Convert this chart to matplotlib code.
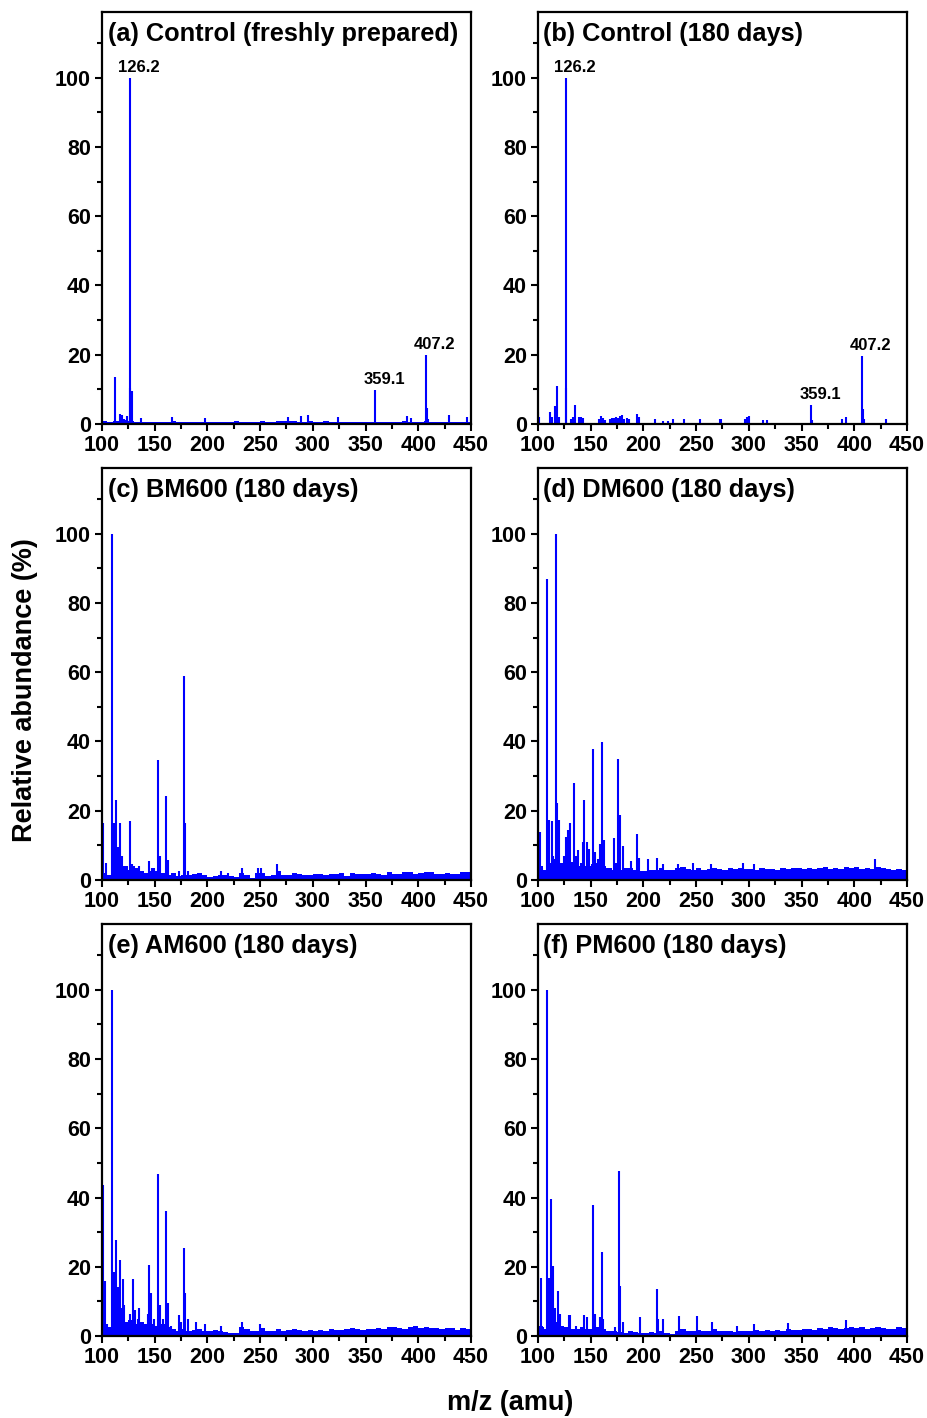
import numpy as np
import matplotlib
matplotlib.use("Agg")
import matplotlib.pyplot as plt
from matplotlib.ticker import MultipleLocator

plt.rcParams['font.family'] = ['Liberation Sans', 'DejaVu Sans']
plt.rcParams['font.weight'] = 'bold'

BLUE = '#0000ff'

# m/z bin edges of the background noise band (5 amu bins)
noise_edges = np.arange(100, 455, 5)

# (a) control, freshly prepared
mz_a = [112, 117, 119, 121, 124, 126.2, 127, 128, 137, 166, 197.7, 276, 289, 295,
        323.6, 359.1, 389, 393, 407.2, 408, 409, 429, 446]
ab_a = [13.6, 3.0, 2.5, 1.5, 2.3, 100, 10.4, 9.5, 1.6, 2.0, 1.7, 2.0, 2.4, 2.7,
        2.0, 9.8, 2.4, 1.7, 19.9, 4.7, 1.5, 2.6, 1.9]
noise_a = [1.0, 0.6, 0.8, 0.8, 1.2, 0.8, 0.6, 0.7, 0.5, 0.6,
           0.7, 0.5, 0.6, 0.8, 0.6, 0.5, 0.7, 0.6, 0.5, 0.7,
           0.6, 0.5, 0.6, 0.7, 0.6, 0.8, 0.6, 0.5, 0.7, 0.6,
           0.8, 0.7, 0.6, 0.9, 0.8, 1.0, 0.8, 0.6, 0.7, 0.8,
           0.6, 0.7, 0.8, 0.6, 0.7, 0.6, 0.5, 0.6, 0.7, 0.6,
           0.5, 0.6, 0.7, 0.5, 0.6, 0.7, 0.6, 0.8, 0.7, 0.6,
           0.5, 0.8, 0.7, 0.6, 0.5, 0.6, 0.5, 0.7, 0.6, 0.6]

# (b) control, 180 days
mz_b = [100, 101, 111.4, 113, 115.8, 118.3, 119.5, 126.2, 126.9, 131,
        133, 135.6, 139, 141, 143, 158, 160, 162, 164, 168,
        170, 172, 174, 176, 178, 180, 182, 184, 186, 194,
        195.5, 211, 218.6, 223, 227.8, 238.5, 254, 272.7, 274, 296,
        298, 300, 313, 317, 359.1, 360, 388.8, 392.4, 407.2, 408,
        409.5, 429.7]
ab_b = [3.5, 2.0, 3.5, 2.0, 5.3, 10.9, 2.0, 100, 10.3, 1.5,
        2.0, 5.5, 2.0, 2.0, 1.8, 1.5, 2.2, 1.8, 1.2, 1.5,
        1.8, 1.6, 2.0, 1.8, 2.2, 2.5, 1.5, 1.8, 1.5, 2.9,
        2.0, 1.5, 1.0, 1.0, 1.5, 1.5, 1.5, 1.3, 1.3, 1.5,
        2.0, 2.2, 1.2, 1.2, 5.6, 1.2, 1.3, 2.0, 19.5, 4.4,
        1.5, 1.4]
noise_b = None

# (c) BM600, 180 days
mz_c = [101, 103.5, 109.2, 110.5, 111.5, 113.3, 115, 117.4, 119.3, 121,
        126.6, 128, 130, 132.5, 134.8, 138.8, 144.9, 147, 149.5, 153.4,
        155, 158, 161, 163, 166, 173, 177.5, 178.7, 181.2, 212.9,
        220, 232.5, 248, 251, 265.7]
ab_c = [16.4, 4.8, 100, 16.5, 16.5, 23.1, 9.6, 16.4, 6.9, 4.0,
        16.9, 4.5, 4.0, 3.1, 4.0, 2.0, 5.5, 3.5, 3.5, 34.7,
        6.9, 2.0, 24.4, 5.8, 1.5, 2.5, 59, 16.4, 2.5, 2.5,
        2.0, 3.6, 3.5, 3.5, 4.5]
noise_c = [2.0, 1.5, 3.0, 2.5, 4.0, 3.0, 3.5, 2.5, 2.0, 2.5,
           2.5, 2.0, 1.5, 2.0, 1.2, 1.5, 1.5, 1.8, 2.0, 1.5,
           0.8, 1.2, 1.5, 1.5, 1.2, 1.0, 2.0, 1.5, 0.5, 2.0,
           2.0, 1.2, 1.5, 2.5, 1.5, 1.5, 2.0, 1.8, 1.5, 1.5,
           1.8, 1.8, 1.5, 1.8, 1.6, 2.0, 1.2, 2.0, 1.8, 1.8,
           1.6, 2.0, 1.8, 1.5, 2.2, 1.8, 1.6, 2.2, 2.4, 1.8,
           2.0, 2.2, 2.4, 1.6, 1.8, 2.0, 1.8, 1.8, 2.4, 2.2]

# (d) DM600, 180 days
mz_d = [100.3, 101.8, 104, 108.2, 110, 113, 114.5, 116.8, 118.4, 120.3,
        122.5, 124.5, 126.4, 128.6, 130.2, 132.7, 134.4, 136, 138.2, 140.4,
        142.3, 143.9, 146.1, 148, 150.9, 152.5, 154.1, 156.6, 158.8, 160.7,
        162.6, 165, 172, 173.9, 176.2, 178, 180.6, 184, 188.1, 191,
        194.2, 196, 204.6, 212.5, 218.8, 233, 247, 264.5, 294.6, 304.7,
        420]
ab_d = [42.4, 14, 3.5, 86.8, 17.4, 16.9, 7, 100, 22.2, 17.4,
        4, 7, 12.5, 14.5, 16.4, 5.3, 28, 7, 8.7, 3,
        11, 23.1, 11, 9, 3, 37.9, 8, 6, 10.5, 39.8,
        11.6, 3.5, 12, 5, 34.9, 18.8, 9.8, 3, 5.5, 3,
        13.2, 6.5, 6, 6.5, 4.5, 4.5, 5, 4.5, 5, 4.5,
        6]
noise_d = [4.0, 3.0, 5.0, 6.0, 5.0, 4.5, 5.0, 4.0, 5.0, 4.0,
           4.5, 5.0, 4.0, 3.5, 3.0, 3.0, 3.5, 3.5, 3.0, 2.5,
           2.5, 3.0, 2.8, 3.5, 3.0, 2.8, 3.5, 3.8, 3.2, 2.8,
           3.5, 3.0, 3.2, 3.5, 3.2, 3.0, 3.5, 3.2, 3.5, 3.2,
           3.2, 3.0, 3.5, 3.2, 3.2, 3.0, 3.5, 3.2, 3.5, 3.5,
           3.2, 3.5, 3.2, 3.5, 3.8, 3.2, 3.5, 3.2, 3.8, 3.5,
           3.8, 3.2, 3.5, 3.2, 3.8, 3.5, 3.2, 3.0, 3.2, 3.0]

# (e) AM600, 180 days
mz_e = [101, 103, 105, 109.2, 110.5, 112, 113.6, 115.4, 117, 118,
        119.6, 121, 123.3, 126.4, 129.3, 131.2, 133.7, 135.3, 137.5, 139.7,
        143.2, 144.8, 146.4, 148.9, 153.4, 154.6, 157.5, 160.7, 162.9, 165.4,
        173, 175, 177.5, 178.7, 181.3, 188.9, 197.7, 212.9, 232.5, 250]
ab_e = [43.6, 15.9, 3.5, 100, 18.4, 18.4, 27.7, 14.2, 22.1, 8,
        16.4, 9, 2, 6.5, 16.6, 7.5, 5, 8, 3.5, 3.5,
        6.5, 20.6, 12.3, 5, 46.8, 9, 5, 36.1, 9.4, 3,
        6, 4, 25.3, 12.3, 5, 4, 3.5, 3, 4, 3.5]
noise_e = [3.0, 2.5, 0.5, 5.0, 4.0, 4.5, 3.5, 4.0, 3.5, 3.5,
           3.0, 3.5, 2.5, 2.0, 1.5, 2.0, 1.5, 1.8, 2.0, 1.5,
           1.5, 1.8, 1.5, 1.2, 1.0, 0.8, 2.5, 2.0, 1.5, 1.5,
           2.2, 1.5, 1.5, 2.0, 1.5, 1.8, 2.0, 1.6, 1.5, 1.8,
           1.5, 1.8, 1.5, 2.0, 1.8, 1.6, 2.0, 2.2, 2.0, 1.8,
           2.0, 2.0, 2.2, 2.0, 2.5, 2.5, 2.2, 2.0, 2.5, 2.8,
           2.2, 2.5, 2.2, 2.2, 2.0, 2.2, 2.2, 1.8, 2.2, 2.0]

# (f) PM600, 180 days
mz_f = [100.3, 102.5, 104.4, 108.9, 110.4, 112.6, 114.5, 116.4, 118.9, 120.8,
        124, 125.5, 127, 129.3, 130.8, 135.9, 143.8, 146.6, 152.3, 154,
        158.7, 160.6, 161.9, 173, 176.5, 178.1, 180.6, 196.7, 212.5, 214.1,
        218.2, 234, 250.5, 264.7, 288.5, 305, 337, 392.4]
ab_f = [26.6, 16.7, 2.5, 100, 16.7, 39.6, 20.1, 8, 13.1, 6.5,
        2, 2.5, 1.5, 6, 6, 3, 6, 5.5, 37.9, 6.5,
        5.5, 24.4, 5, 2.5, 47.8, 14.4, 4, 5.5, 13.5, 5,
        5, 5.8, 5.8, 4, 3, 3.5, 3.8, 4.5]
noise_f = [3.0, 2.0, 0.5, 4.0, 3.0, 2.5, 2.0, 2.0, 2.5, 2.0,
           2.0, 2.5, 2.0, 1.5, 1.5, 1.2, 1.0, 1.5, 1.2, 1.0,
           1.0, 1.2, 1.0, 1.5, 1.0, 0.5, 1.5, 2.0, 1.5, 1.5,
           1.8, 1.5, 1.5, 2.0, 1.5, 1.5, 1.5, 1.2, 1.5, 1.5,
           1.5, 1.8, 1.5, 1.8, 1.5, 1.8, 1.5, 2.0, 1.8, 1.6,
           2.0, 2.0, 1.8, 2.2, 2.0, 2.5, 2.2, 2.0, 2.2, 2.5,
           2.2, 2.5, 2.0, 2.2, 2.5, 2.2, 2.0, 2.0, 2.5, 2.2]

titles = ['(a) Control (freshly prepared)', '(b) Control (180 days)',
          '(c) BM600 (180 days)', '(d) DM600 (180 days)',
          '(e) AM600 (180 days)', '(f) PM600 (180 days)']
spectra = [(mz_a, ab_a, noise_a), (mz_b, ab_b, noise_b), (mz_c, ab_c, noise_c),
           (mz_d, ab_d, noise_d), (mz_e, ab_e, noise_e), (mz_f, ab_f, noise_f)]
labelled = {0: [126.2, 359.1, 407.2], 1: [126.2, 359.1, 407.2]}


def style_axes(ax):
    ax.set_xlim(100, 450)
    ax.set_ylim(0, 119)
    ax.xaxis.set_major_locator(MultipleLocator(50))
    ax.xaxis.set_minor_locator(MultipleLocator(25))
    ax.yaxis.set_major_locator(MultipleLocator(20))
    ax.yaxis.set_minor_locator(MultipleLocator(10))
    ax.set_yticks([0, 20, 40, 60, 80, 100])
    ax.tick_params(which='both', direction='out', width=1.5, labelsize=15.5,
                   top=False, right=False)
    ax.tick_params(which='major', length=5, pad=3)
    ax.tick_params(which='minor', length=3.5)
    for side in ax.spines.values():
        side.set_linewidth(1.6)


fig = plt.figure(figsize=(9.28, 14.18), dpi=100)
lefts = [0.1099, 0.5797]
bottoms = [0.7010, 0.3794, 0.0578]

for i, (mz, ab, noise) in enumerate(spectra):
    ax = fig.add_axes([lefts[i % 2], bottoms[i // 2], 0.3976, 0.2906])
    if noise is not None:
        ax.stairs(noise, noise_edges, fill=True, color=BLUE, lw=0)
    ax.vlines(mz, 0, ab, color=BLUE, lw=1.5)
    for peak in labelled.get(i, []):
        h = ab[mz.index(peak)]
        ax.annotate('{:.1f}'.format(peak), xy=(peak, h), xytext=(9, 3),
                    textcoords='offset pixels', ha='center', va='bottom',
                    fontsize=12, fontweight='bold')
    ax.text(0.015, 0.975, titles[i], transform=ax.transAxes, ha='left', va='top',
            fontsize=18.3, fontweight='bold')
    style_axes(ax)

fig.text(25 / 928, 1 - 690 / 1418, 'Relative abundance (%)', rotation=90,
         ha='center', va='center', fontsize=19.5, fontweight='bold')
fig.text(510 / 928, 1 - 1403 / 1418, 'm/z (amu)', ha='center', va='center',
         fontsize=19.5, fontweight='bold')

fig.savefig('out.png', dpi=100)
